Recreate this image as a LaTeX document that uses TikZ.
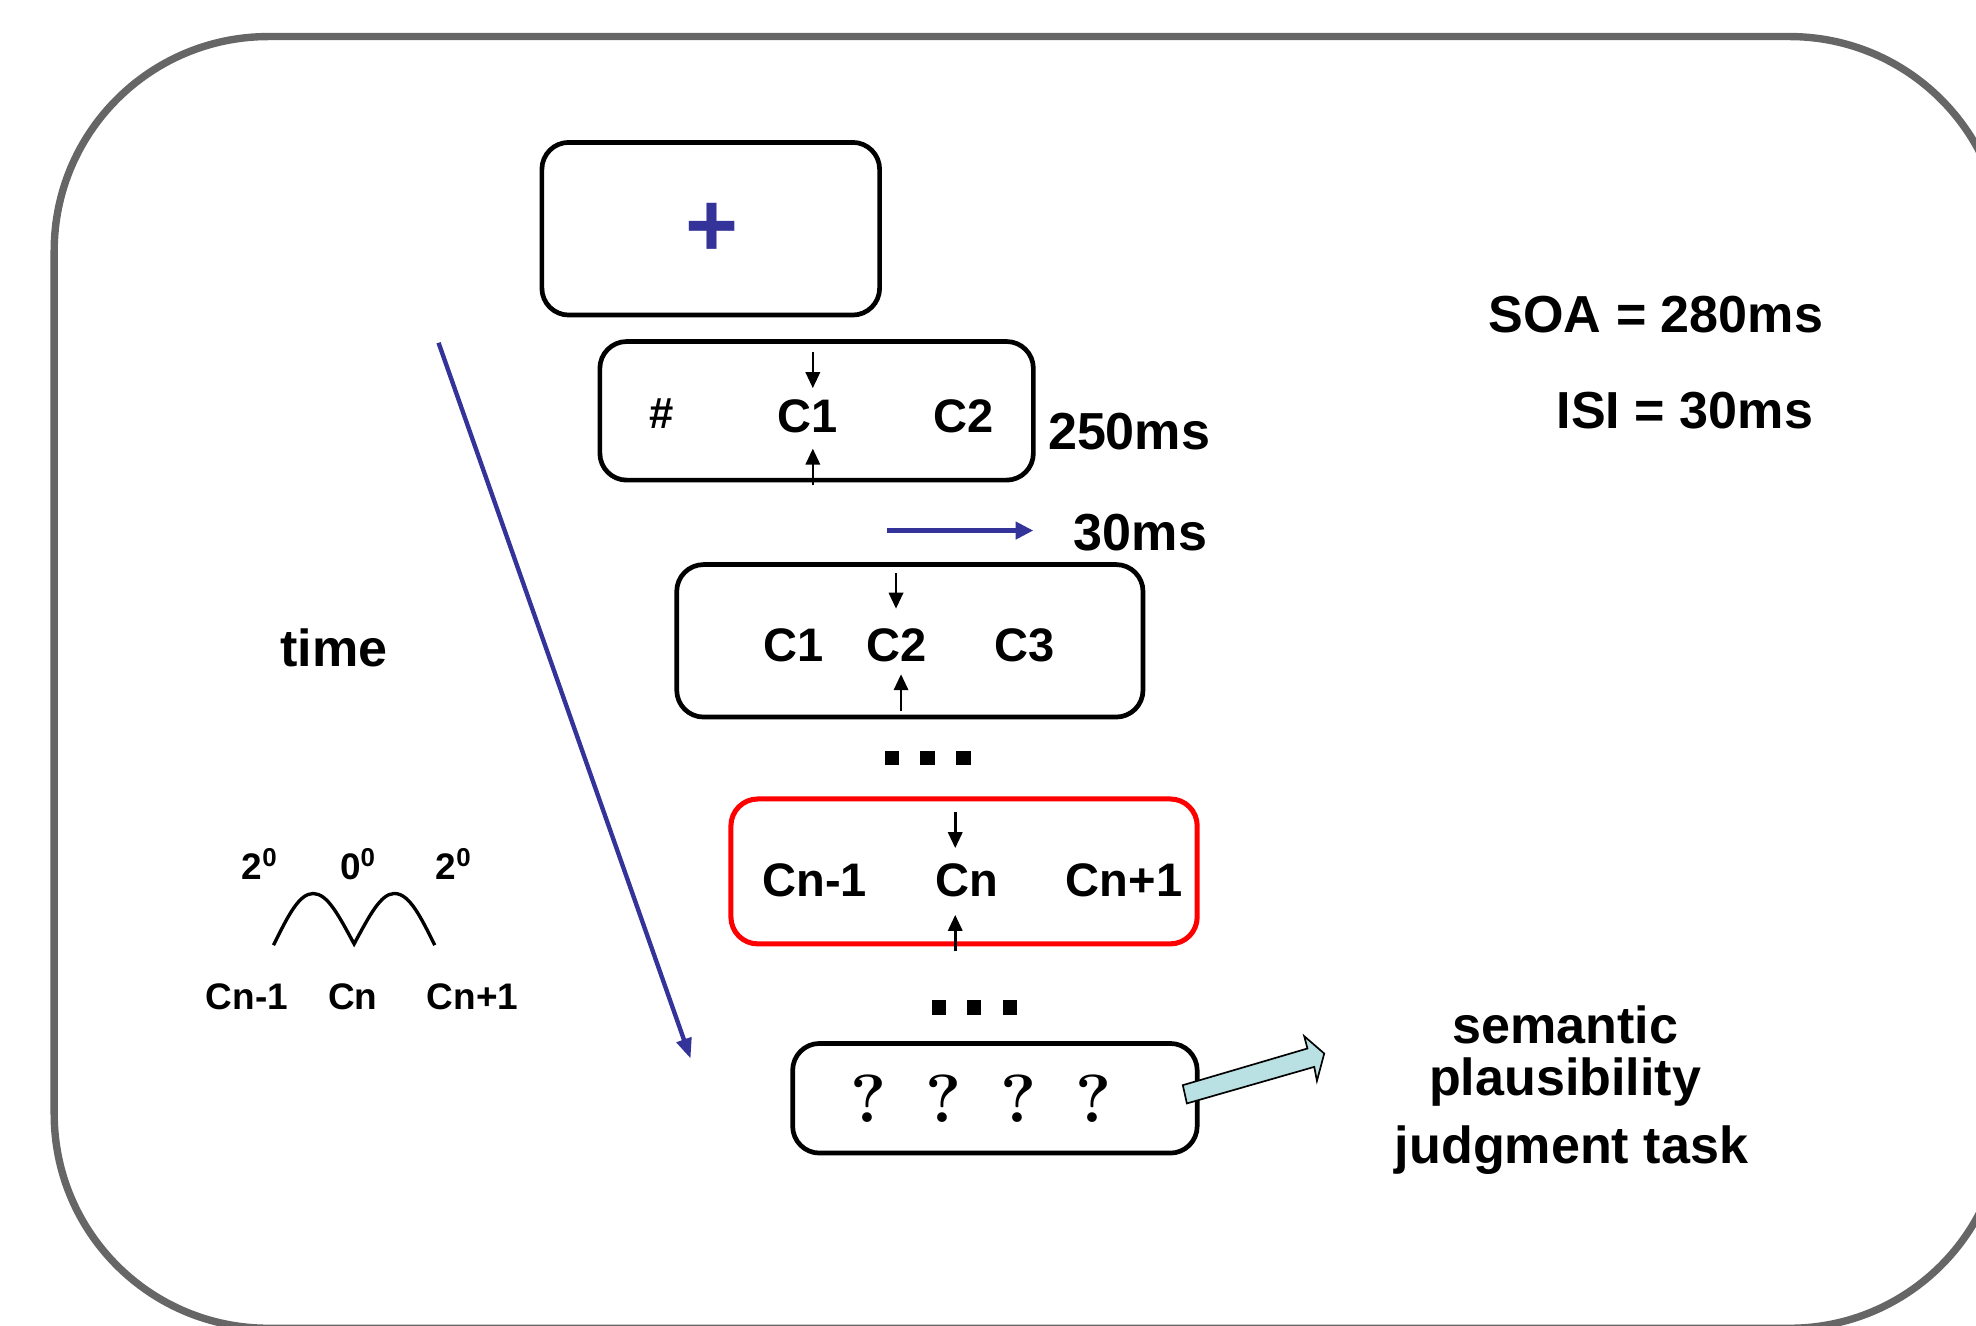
\documentclass[tikz,border=0pt]{standalone}
\usepackage{fontspec}
\newfontfamily\arial{Liberation Sans}
\usetikzlibrary{arrows.meta}
\definecolor{navy}{HTML}{333399}
\definecolor{framegray}{HTML}{666666}
\definecolor{pale}{HTML}{B9E0E3}
\begin{document}
\begin{tikzpicture}[x=0.75pt,y=-0.75pt,
  screen/.style={draw=black, line width=2.8pt, rounded corners=16pt, inner sep=0pt},
  big/.style={font=\arial\bfseries\fontsize{31}{37}\selectfont, inner sep=0pt, anchor=base},
  mid/.style={font=\arial\bfseries\fontsize{28}{33}\selectfont, inner sep=0pt, anchor=base},
  sml/.style={font=\arial\bfseries\fontsize{22}{26}\selectfont, inner sep=0pt, anchor=base},
  qm/.style={font=\bfseries\fontsize{40.5}{48}\selectfont, inner sep=0pt, anchor=base},
  sq/.style={fill=black, minimum size=8.6pt, inner sep=0pt},
  smallarrow/.style={line width=1.5pt, -{Triangle[length=9.5pt,width=8.5pt]}},
  bluearrow/.style={navy, line width=3pt, -{Triangle[length=10.5pt,width=10pt]}}
]
\useasboundingbox (0,0) rectangle (1568,1052);
\begin{scope}
\clip (0,0) rectangle (1568,1052);
\draw[framegray, line width=4.4pt, rounded corners=127.5pt] (43,29) rectangle (1590,1054);
\end{scope}

% screens
\node[screen, minimum width=201pt, minimum height=102.75pt] (fix) at (564,181.5) {};
\node[screen, minimum width=258pt, minimum height=82.5pt] (s1) at (648,326) {};
\node[screen, minimum width=277.5pt, minimum height=90.75pt] (s2) at (722,508.5) {};
\node[screen, draw=red, line width=3pt, minimum width=277.5pt, minimum height=86.25pt] (sn) at (765,691.5) {};
\node[screen, minimum width=240.75pt, minimum height=65.25pt] (sq) at (789.5,871.5) {};

% fixation cross
\node[font=\arial\bfseries\fontsize{54}{60}\selectfont, text=navy, inner sep=0pt] (plus) at (565,182.5) {+};

% screen 1
\node[font=\arial\bfseries\fontsize{26}{30}\selectfont, inner sep=0pt, anchor=base] (hash) at (525,340) {\#};
\node[mid] (s1c1) at (641,343) {C1};
\node[mid] (s1c2) at (764.5,343) {C2};
\coordinate (s1dt) at (645,279); \coordinate (s1db) at (645,308);
\coordinate (s1ub) at (645,385); \coordinate (s1ut) at (645,356);
\draw[smallarrow] (s1dt) -- (s1db);
\draw[smallarrow] (s1ub) -- (s1ut);
\node[big] (t250) at (896,357) {250ms};

% ISI arrow
\coordinate (isiA) at (704,421); \coordinate (isiB) at (820,421);
\draw[bluearrow] (isiA) -- (isiB);
\node[big] (t30) at (905,437) {30ms};

% screen 2
\node[mid] (s2c1) at (630,525) {C1};
\node[mid] (s2c2) at (711.5,525) {C2};
\node[mid] (s2c3) at (813,525) {C3};
\coordinate (s2dt) at (711,455); \coordinate (s2db) at (711,483);
\coordinate (s2ub) at (715,564); \coordinate (s2ut) at (715,535);
\draw[smallarrow] (s2dt) -- (s2db);
\draw[smallarrow] (s2ub) -- (s2ut);

% dots 1
\node[sq] (d1a) at (708,601.5) {};
\node[sq] (d1b) at (736,601.5) {};
\node[sq] (d1c) at (764.5,601.5) {};

% red screen
\node[mid] (snc1) at (646.5,711) {Cn-1};
\node[mid] (snc2) at (767.5,711) {Cn};
\node[mid] (snc3) at (892,711) {Cn+1};
\coordinate (sndt) at (758,644); \coordinate (sndb) at (758,673);
\coordinate (snub) at (758,755); \coordinate (snut) at (758,726);
\draw[smallarrow] (sndt) -- (sndb);
\draw[smallarrow] (snub) -- (snut);

% dots 2
\node[sq] (d2a) at (745,799.6) {};
\node[sq] (d2b) at (773,799.6) {};
\node[sq] (d2c) at (801.5,799.6) {};

% question screen
\node[qm] (q1) at (689,891) {?};
\node[qm] (q2) at (749,891) {?};
\node[qm] (q3) at (808,891) {?};
\node[qm] (q4) at (868,891) {?};

% block arrow
\draw[fill=pale, line width=1pt, line join=miter] (941.8,875.6) -- (938.6,861.1) -- (1037.5,832) -- (1034.9,822.2) -- (1050.8,836) -- (1045,857.7) -- (1042.9,846.6) -- cycle;

% task text
\node[big] (sem) at (1242,828) {semantic};
\node[big] (pla) at (1242,869) {plausibility};
\node[big] (jud) at (1247,923) {judgment task};

% SOA / ISI
\node[big] (soa) at (1314,264) {SOA = 280ms};
\node[big] (isi) at (1337,340) {ISI = 30ms};

% time arrow
\node[big] (time) at (265,529) {time};
\coordinate (tstart) at (348,272); \coordinate (tend) at (548,840);
\draw[navy, line width=2.6pt, -{Triangle[length=12pt,width=9pt]}] (tstart) -- (tend);

% eccentricity sketch
\node[sml] (e1) at (206,698) {2\textsuperscript{0}};
\node[sml] (e2) at (284,698) {0\textsuperscript{0}};
\node[sml] (e3) at (360,698) {2\textsuperscript{0}};
\draw[line width=2pt] (217,750) .. controls (228,728) and (237,709) .. (248.5,709)
  .. controls (260,709) and (269,727) .. (281,749)
  .. controls (293,727) and (302,709) .. (313,709)
  .. controls (325,709) and (334,728) .. (345,750);
\node[sml] (l1) at (196,801) {Cn-1};
\node[sml] (l2) at (280,801) {Cn};
\node[sml] (l3) at (375,801) {Cn+1};
\end{tikzpicture}
\end{document}
